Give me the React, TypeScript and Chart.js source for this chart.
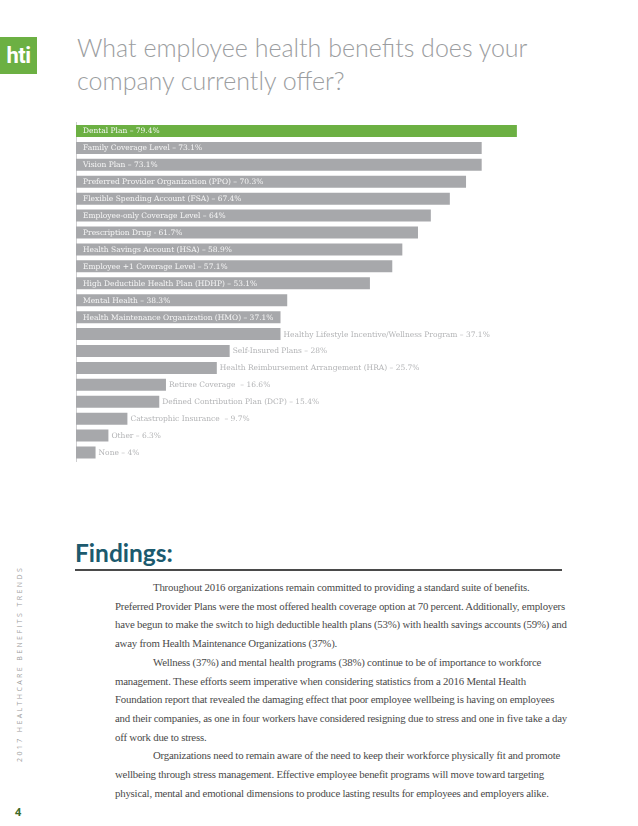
import React, { useEffect, useRef } from "react";
import { Chart, registerables } from "chart.js";

Chart.register(...registerables);

const categories = [
  "Dental Plan",
  "Family Coverage Level",
  "Vision Plan",
  "Preferred Provider Organization (PPO)",
  "Flexible Spending Account (FSA)",
  "Employee-only Coverage Level",
  "Prescription Drug",
  "Health Savings Account (HSA)",
  "Employee +1 Coverage Level",
  "High Deductible Health Plan (HDHP)",
  "Mental Health",
  "Health Maintenance Organization (HMO)",
  "Healthy Lifestyle Incentive/Wellness Program",
  "Self-Insured Plans",
  "Health Reimbursement Arrangement (HRA)",
  "Retiree Coverage",
  "Defined Contribution Plan (DCP)",
  "Catastrophic Insurance",
  "Other",
  "None",
];

const values = [79.4, 73.1, 73.1, 70.3, 67.4, 64, 61.7, 58.9, 57.1, 53.1, 38.3, 37.1, 37.1, 28, 25.7, 16.6, 15.4, 9.7, 6.3, 4];

const barLabels = [
  "Dental Plan – 79.4%",
  "Family Coverage Level – 73.1%",
  "Vision Plan – 73.1%",
  "Preferred Provider Organization (PPO) – 70.3%",
  "Flexible Spending Account (FSA) – 67.4%",
  "Employee-only Coverage Level – 64%",
  "Prescription Drug - 61.7%",
  "Health Savings Account (HSA) – 58.9%",
  "Employee +1 Coverage Level – 57.1%",
  "High Deductible Health Plan (HDHP) – 53.1%",
  "Mental Health – 38.3%",
  "Health Maintenance Organization (HMO) – 37.1%",
  "Healthy Lifestyle Incentive/Wellness Program – 37.1%",
  "Self-Insured Plans – 28%",
  "Health Reimbursement Arrangement (HRA) – 25.7%",
  "Retiree Coverage  – 16.6%",
  "Defined Contribution Plan (DCP) – 15.4%",
  "Catastrophic Insurance  – 9.7%",
  "Other – 6.3%",
  "None – 4%",
];

const highlightIndex = 0;
const insideLabelCount = 12;
const axisMin = 0.5;
const axisMax = 100;

const titleLines = ["What employee health benefits does your", "company currently offer?"];

const bodyLines: { text: string; indent: boolean }[] = [
  { text: "Throughout 2016 organizations remain committed to providing a standard suite of benefits.", indent: true },
  { text: "Preferred Provider Plans were the most offered health coverage option at 70 percent. Additionally, employers", indent: false },
  { text: "have begun to make the switch to high deductible health plans (53%) with health savings accounts (59%) and", indent: false },
  { text: "away from Health Maintenance Organizations (37%).", indent: false },
  { text: "Wellness (37%) and mental health programs (38%) continue to be of importance to workforce", indent: true },
  { text: "management. These efforts seem imperative when considering statistics from a 2016 Mental Health", indent: false },
  { text: "Foundation report that revealed the damaging effect that poor employee wellbeing is having on employees", indent: false },
  { text: "and their companies, as one in four workers have considered resigning due to stress and one in five take a day", indent: false },
  { text: "off work due to stress.", indent: false },
  { text: "Organizations need to remain aware of the need to keep their workforce physically fit and promote", indent: true },
  { text: "wellbeing through stress management. Effective employee benefit programs will move toward targeting", indent: false },
  { text: "physical, mental and emotional dimensions to produce lasting results for employees and employers alike.", indent: false },
];

const GREEN = "#6cb043";
const GRAY = "#a7a8ab";

const labelPlugin = {
  id: "barLabels",
  afterDatasetsDraw(chart: any) {
    const ctx = chart.ctx;
    const meta = chart.getDatasetMeta(0);
    const left = chart.chartArea.left;
    ctx.save();
    ctx.font = "7.5px 'DejaVu Serif'";
    ctx.textBaseline = "middle";
    ctx.textAlign = "left";
    meta.data.forEach((bar: any, i: number) => {
      const text = barLabels[i];
      if (i < insideLabelCount) {
        ctx.fillStyle = "#f6f6f6";
        ctx.fillText(text, left + 7, bar.y + 0.5);
      } else {
        ctx.fillStyle = "#b3b4b6";
        ctx.fillText(text, bar.x + 3, bar.y + 0.5);
      }
    });
    ctx.restore();
  },
};

function BarChart() {
  const ref = useRef<HTMLCanvasElement | null>(null);
  useEffect(() => {
    if (!ref.current) return;
    const chart = new Chart(ref.current, {
      type: "bar",
      data: {
        labels: categories,
        datasets: [
          {
            data: values,
            backgroundColor: values.map((_, i) => (i === highlightIndex ? GREEN : GRAY)),
            borderWidth: 0,
            categoryPercentage: 1,
            barPercentage: 0.71,
          },
        ],
      },
      options: {
        indexAxis: "y",
        responsive: false,
        animation: false,
        layout: { padding: { left: 76, top: 12.5, right: 6, bottom: 9 } },
        plugins: { legend: { display: false }, tooltip: { enabled: false } },
        scales: {
          x: { display: false, min: axisMin, max: axisMax },
          y: {
            display: true,
            ticks: { display: false },
            grid: { display: false },
            border: { display: true, color: "#cfcfd1", width: 1 },
            afterFit: (s: any) => {
              s.width = 0;
            },
          },
        },
      },
      plugins: [labelPlugin],
    });
    return () => chart.destroy();
  }, []);
  return (
    <canvas
      ref={ref}
      width={638}
      height={360}
      style={{ position: "absolute", left: 0, top: 110, width: 638, height: 360 }}
    />
  );
}

export default function App() {
  return (
    <div
      style={{
        position: "absolute",
        left: 0,
        top: 0,
        width: 638,
        height: 826,
        overflow: "hidden",
        background: "#fff",
      }}
    >
      <div
        style={{
          position: "absolute",
          left: 0,
          top: 37,
          width: 37,
          height: 37,
          background: GREEN,
          color: "#fff",
          fontFamily: "'Liberation Sans Narrow', 'Roboto', sans-serif",
          fontWeight: 700,
          fontSize: 22,
          lineHeight: "37px",
          textAlign: "center",
          letterSpacing: -0.5,
        }}
      >
        hti
      </div>
      <div
        style={{
          position: "absolute",
          left: 77,
          top: 31,
          fontFamily: "Lato, 'Open Sans', sans-serif",
          fontWeight: 300,
          fontSize: 25,
          lineHeight: "33px",
          color: "#9b9da0",
          whiteSpace: "nowrap",
        }}
      >
        {titleLines.map((t, i) => (
          <div key={i}>{t}</div>
        ))}
      </div>
      <BarChart />
      <div
        style={{
          position: "absolute",
          left: 75,
          top: 538,
          fontFamily: "Lato, 'Noto Sans', sans-serif",
          fontWeight: 700,
          fontSize: 24.5,
          lineHeight: "30px",
          color: "#1c5a6e",
        }}
      >
        Findings:
      </div>
      <div
        style={{
          position: "absolute",
          left: 75,
          top: 569,
          width: 487,
          height: 1.5,
          background: "#4a4a4a",
        }}
      />
      <div
        style={{
          position: "absolute",
          left: 115,
          top: 578,
          fontFamily: "'Liberation Serif', serif",
          fontSize: 10.8,
          letterSpacing: -0.2,
          lineHeight: "18.7px",
          color: "#4a4a4a",
          whiteSpace: "nowrap",
        }}
      >
        {bodyLines.map((l, i) => (
          <div key={i} style={{ paddingLeft: l.indent ? 38 : 0 }}>
            {l.text}
          </div>
        ))}
      </div>
      <div
        style={{
          position: "absolute",
          left: 16,
          top: 762,
          transformOrigin: "left top",
          transform: "rotate(-90deg)",
          fontFamily: "'Open Sans', sans-serif",
          fontSize: 7,
          lineHeight: "8px",
          letterSpacing: 2.4,
          color: "#a0a0a0",
          whiteSpace: "nowrap",
        }}
      >
        2017 HEALTHCARE BENEFITS TRENDS
      </div>
      <div
        style={{
          position: "absolute",
          left: 15,
          top: 805,
          fontFamily: "'Open Sans', sans-serif",
          fontWeight: 700,
          fontSize: 11,
          lineHeight: "14px",
          color: "#3d6b2a",
        }}
      >
        4
      </div>
    </div>
  );
}
